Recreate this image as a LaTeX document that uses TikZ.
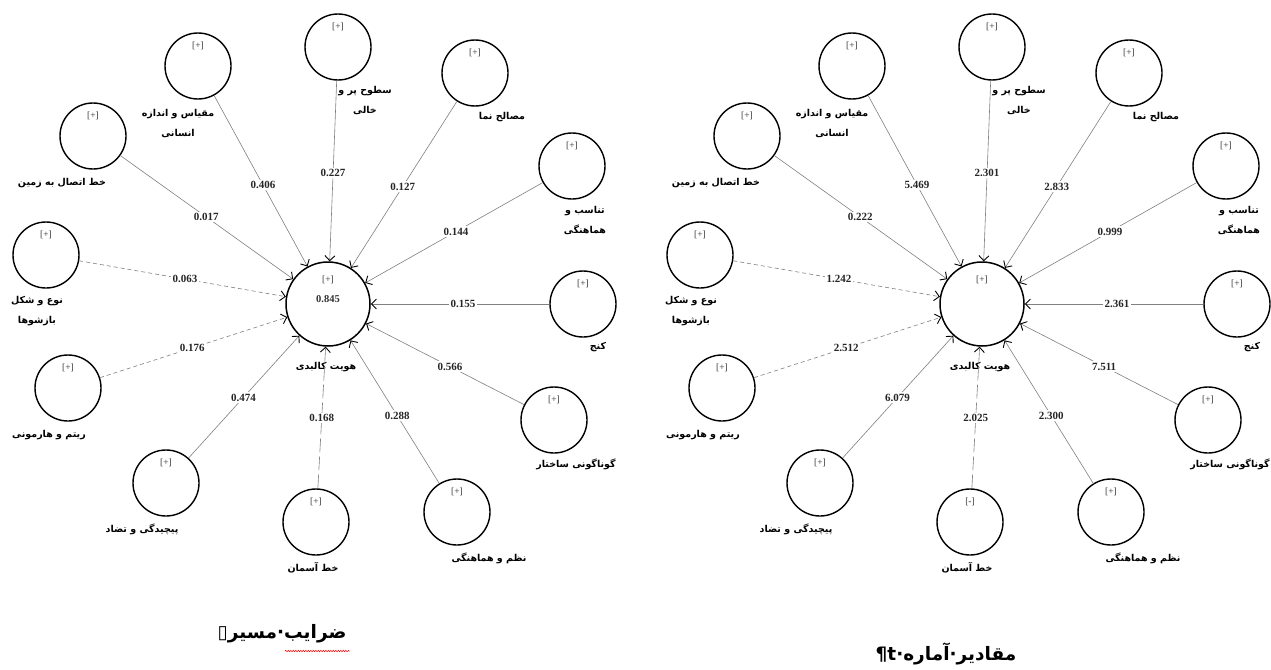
\documentclass[tikz,border=0pt]{standalone}
\usepackage{fontspec}
\setmainfont{Liberation Serif}
\newfontfamily\arabicfont[Script=Arabic]{DejaVu Sans}
\TeXXeTstate=1
\usetikzlibrary{arrows.meta,decorations.pathmorphing}
\newcommand\ar[1]{{\arabicfont\beginR #1\endR}}
\newcommand\outernode[5]{%
  \node[circ] (#1) at (#2) {};
  \node[sign] at ([yshift=-14pt]#1.north) {#3};
  \node[lab] at (#4) {#5};}
\newcommand\PLSmodel[4]{%
\begin{scope}[xshift=#2]
  \node[bigc] (#1C) at (328,304) {};
  \node[sign] at (328,280) {[+]};
  #3
  \node[lab] at (326,367) {\ar{هویت کالبدی}};
  \outernode{#1a}{198,66}{[+]}{178,123}{\ar{مقیاس و اندازه}\\\ar{انسانی}}
  \outernode{#1b}{93,136}{[+]}{62,183}{\ar{خط اتصال به زمین}}
  \outernode{#1c}{46,255}{[+]}{37,311}{\ar{نوع و شکل}\\\ar{بازشوها}}
  \outernode{#1d}{68,388}{[+]}{49,435}{\ar{ریتم و هارمونی}}
  \outernode{#1e}{166,483}{[+]}{142,529}{\ar{پیچیدگی و تضاد}}
  \outernode{#1f}{316,522}{#4}{313,568}{\ar{خط آسمان}}
  \outernode{#1g}{457,512}{[+]}{489,558}{\ar{نظم و هماهنگی}}
  \outernode{#1h}{554,420}{[+]}{576,464}{\ar{گوناگونی ساختار}}
  \outernode{#1i}{583,304}{[+]}{598,347}{\ar{کنج}}
  \outernode{#1j}{572,166}{[+]}{585,220}{\ar{تناسب و}\\\ar{هماهنگی}}
  \outernode{#1k}{475,73}{[+]}{502,117}{\ar{مصالح نما}}
  \outernode{#1l}{338,47}{[+]}{365,100}{\ar{سطوح پر و}\\\ar{خالی}}
\end{scope}}
\tikzset{
  circ/.style={circle, draw=black, line width=1.4pt, minimum size=66pt, inner sep=0pt},
  bigc/.style={circle, draw=black, line width=1.5pt, minimum size=84pt, inner sep=0pt},
  sign/.style={font=\fontsize{9.5}{10}\selectfont, inner sep=0pt, text=black!80},
  lab/.style={font=\fontsize{9.5}{20}\selectfont\bfseries, align=center, inner sep=0pt},
  val/.style={font=\fontsize{11}{12}\selectfont\bfseries, fill=white, inner sep=1.5pt, text=black!85},
  edge/.style={draw=black!50, line width=0.6pt, -{Straight Barb[length=5pt,width=10pt,line width=0.9pt,color=black]}},
  dshort/.style={edge, dash pattern=on 4pt off 3pt},
  dlong/.style={edge, dash pattern=on 14pt off 4pt},
  title/.style={font=\fontsize{18.5}{19}\selectfont\bfseries, inner sep=0pt}
}
\begin{document}
\begin{tikzpicture}[x=1pt, y=-1pt]
\fill[white] (0,0) rectangle (1271,669);
\useasboundingbox (0,0) rectangle (1271,669);

\PLSmodel{L}{0pt}{\node[sign] at (328,299) {\fontsize{10.5}{11}\selectfont\bfseries 0.845};}{[+]}
\PLSmodel{R}{654pt}{}{[-]}

% left edges (path coefficients)
\draw[edge]   (La) -- node[val,pos=.522]{0.406} (LC);
\draw[edge]   (Lb) -- node[val,pos=.496]{0.017} (LC);
\draw[dshort] (Lc) -- node[val,pos=.512]{0.063} (LC);
\draw[dshort] (Ld) -- node[val,pos=.492]{0.176} (LC);
\draw[edge]   (Le) -- node[val,pos=.495]{0.474} (LC);
\draw[dlong]  (Lf) -- node[val,pos=.497]{0.168} (LC);
\draw[edge]   (Lg) -- node[val,pos=.474]{0.288} (LC);
\draw[edge]   (Lh) -- node[val,pos=.468]{0.566} (LC);
\draw[edge]   (Li) -- node[val,pos=.483]{0.155} (LC);
\draw[edge]   (Lj) -- node[val,pos=.488]{0.144} (LC);
\draw[edge]   (Lk) -- node[val,pos=.512]{0.127} (LC);
\draw[edge]   (Ll) -- node[val,pos=.510]{0.227} (LC);

% right edges (t values)
\draw[edge]   (Ra) -- node[val,pos=.522]{5.469} (RC);
\draw[edge]   (Rb) -- node[val,pos=.496]{0.222} (RC);
\draw[dshort] (Rc) -- node[val,pos=.512]{1.242} (RC);
\draw[dshort] (Rd) -- node[val,pos=.492]{2.512} (RC);
\draw[edge]   (Re) -- node[val,pos=.495]{6.079} (RC);
\draw[dlong]  (Rf) -- node[val,pos=.497]{2.025} (RC);
\draw[edge]   (Rg) -- node[val,pos=.474]{2.300} (RC);
\draw[edge]   (Rh) -- node[val,pos=.468]{7.511} (RC);
\draw[edge]   (Ri) -- node[val,pos=.483]{2.361} (RC);
\draw[edge]   (Rj) -- node[val,pos=.488]{0.999} (RC);
\draw[edge]   (Rk) -- node[val,pos=.512]{2.833} (RC);
\draw[edge]   (Rl) -- node[val,pos=.510]{2.301} (RC);

% titles
\node[title] (T1) at (282,634) {\ar{ضرایب·مسیر▯}};
\node[title] (T2) at (946,654) {\ar{مقادیر·آماره·t¶}};
\draw[red, line width=0.5pt, decorate, decoration={snake, amplitude=0.7pt, segment length=2.5pt}] (285,651) -- (350,651);
\end{tikzpicture}
\end{document}
